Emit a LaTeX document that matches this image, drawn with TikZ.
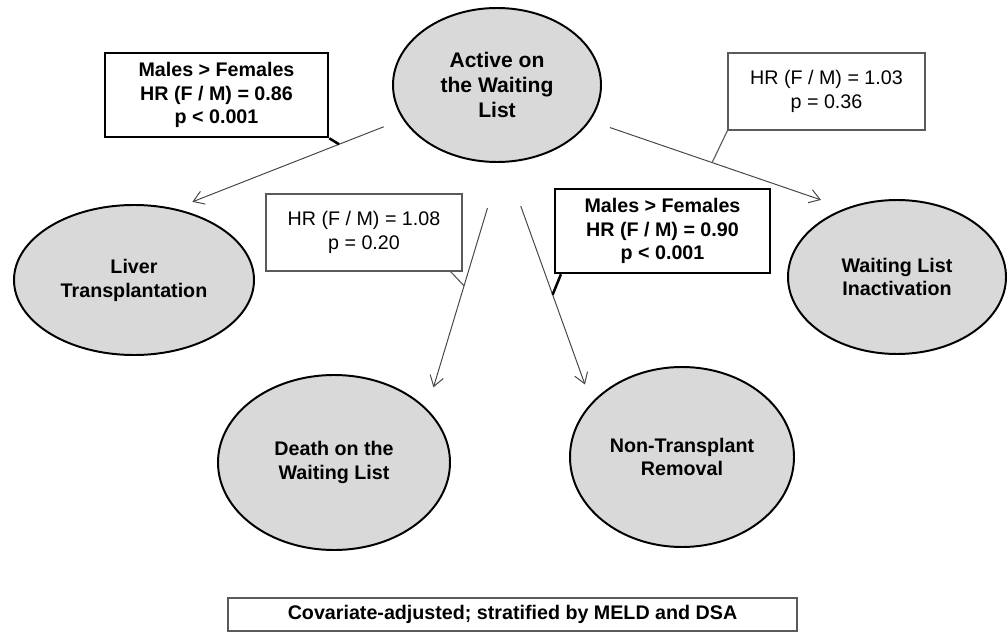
\documentclass[tikz,border=0pt]{standalone}
\usepackage{fontspec}
\setmainfont{Liberation Sans}
\usetikzlibrary{shapes.geometric,arrows.meta,positioning}
\definecolor{ovalfill}{RGB}{217,217,217}
\definecolor{edgegray}{RGB}{90,90,90}
\definecolor{linegray}{RGB}{70,70,70}

\begin{document}
\begin{tikzpicture}[
    outcome/.style={ellipse, draw=black, line width=1.4pt, fill=ovalfill, inner sep=0pt,
                 align=center, font=\fontsize{14}{17}\selectfont\bfseries},
    hrbox/.style={rectangle, draw=edgegray, line width=0.8pt, fill=white, inner sep=0pt,
                 align=center, font=\fontsize{14}{17}\selectfont},
    sigbox/.style={hrbox, draw=black, line width=1.8pt, font=\fontsize{14}{17}\selectfont\bfseries},
    arr/.style={-{Straight Barb[length=2.6mm,width=3.4mm]}, line width=0.7pt, linegray},
    lead/.style={line width=0.8pt, edgegray},
    leadbold/.style={line width=1.8pt, black}
]
\useasboundingbox (0,0) rectangle (25.2,-15.825);
% states
\node[outcome, minimum width=5.2cm, minimum height=3.85cm, font=\fontsize{15}{18}\selectfont\bfseries]
    (act) at (12.425,-2.125) {Active on\\the Waiting\\List};
\node[outcome, minimum width=6cm, minimum height=3.75cm] (liver) at (3.35,-7.0) {Liver\\Transplantation};
\node[outcome, minimum width=5.45cm, minimum height=3.85cm] (inact) at (22.425,-6.925) {Waiting List\\Inactivation};
\node[outcome, minimum width=5.8cm, minimum height=4.375cm] (death) at (8.35,-11.5625) {Death on the\\Waiting List};
\node[outcome, minimum width=5.6cm, minimum height=4.5cm] (nontx) at (17.05,-11.425) {Non-Transplant\\Removal};
% hazard ratios
\node[sigbox, minimum width=5.575cm, minimum height=2.1cm] (hrlt) at (5.4125,-2.375)
    {Males > Females\\HR (F / M) = 0.86\\p < 0.001};
\node[hrbox, minimum width=4.925cm, minimum height=1.925cm] (hrin) at (20.6625,-2.2875)
    {HR (F / M) = 1.03\\p = 0.36};
\node[hrbox, minimum width=4.9cm, minimum height=1.925cm] (hrde) at (9.1,-5.8125)
    {HR (F / M) = 1.08\\p = 0.20};
\node[sigbox, minimum width=5.375cm, minimum height=2.1cm] (hrnt) at (16.5625,-5.775)
    {Males > Females\\HR (F / M) = 0.90\\p < 0.001};
\node[hrbox, minimum width=14.225cm, minimum height=0.825cm, font=\fontsize{14}{16}\selectfont\bfseries]
    (note) at (12.8125,-15.3625) {Covariate-adjusted; stratified by MELD and DSA};
% transitions
\draw[arr, shorten <=0.51cm, shorten >=0.46cm] (act.200) -- coordinate[pos=0.28] (tlt) (liver.60);
\draw[arr, shorten <=0.52cm, shorten >=0.64cm] (act.339) -- coordinate[pos=0.478] (tin) (inact.127);
\draw[arr, shorten <=1.18cm, shorten >=0.56cm] (act.273.5) -- coordinate[pos=0.50] (tde) (death.30);
\draw[arr, shorten <=1.15cm, shorten >=0.48cm] (act.276) -- coordinate[pos=0.55] (tnt) (nontx.149);
% callout leads
\draw[leadbold] (hrlt.south east) -- (tlt);
\draw[lead] (hrin.south west) -- (tin);
\draw[lead] ([xshift=-3mm]hrde.south east) -- (tde);
\draw[leadbold] ([xshift=1.8mm]hrnt.south west) -- (tnt);
\end{tikzpicture}
\end{document}
